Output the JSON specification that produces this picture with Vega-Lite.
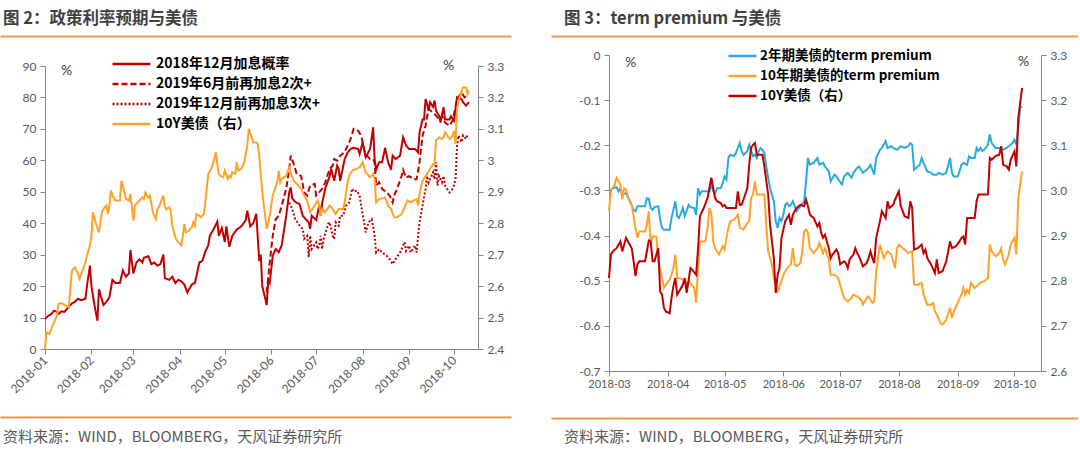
{
"$schema":"https://vega.github.io/schema/vega-lite/v6.json",
"background":"white",
"padding":{"left":0,"top":10,"right":0,"bottom":0},
"config":{"view":{"stroke":null},"axis":{"grid":false,"domainColor":"#868686","tickColor":"#868686","labelColor":"#595959","labelFont":"Lato","labelFontSize":12,"tickSize":5}},
"datasets":{
"L":[
{"s":"a","d":"2018-01-01","v":9.5},{"s":"a","d":"2018-01-03","v":10.5},{"s":"a","d":"2018-01-05","v":11},{"s":"a","d":"2018-01-07","v":12.2},{"s":"a","d":"2018-01-09","v":11.8},{"s":"a","d":"2018-01-10","v":11.2},{"s":"a","d":"2018-01-12","v":12},{"s":"a","d":"2018-01-14","v":11.8},{"s":"a","d":"2018-01-17","v":13.5},{"s":"a","d":"2018-01-19","v":14.5},{"s":"a","d":"2018-01-21","v":15},{"s":"a","d":"2018-01-23","v":16},{"s":"a","d":"2018-01-25","v":15.5},{"s":"a","d":"2018-01-28","v":16},{"s":"a","d":"2018-01-29","v":20},{"s":"a","d":"2018-01-31","v":26.5},{"s":"a","d":"2018-02-01","v":20},{"s":"a","d":"2018-02-03","v":14},{"s":"a","d":"2018-02-05","v":9},{"s":"a","d":"2018-02-06","v":19},{"s":"a","d":"2018-02-09","v":14},{"s":"a","d":"2018-02-11","v":15},{"s":"a","d":"2018-02-13","v":16.5},{"s":"a","d":"2018-02-15","v":22},{"s":"a","d":"2018-02-17","v":21},{"s":"a","d":"2018-02-20","v":21},{"s":"a","d":"2018-02-22","v":25},{"s":"a","d":"2018-02-24","v":23},{"s":"a","d":"2018-02-26","v":24},{"s":"a","d":"2018-02-27","v":31.5},{"s":"a","d":"2018-03-01","v":24},{"s":"a","d":"2018-03-03","v":27.5},{"s":"a","d":"2018-03-05","v":28.5},{"s":"a","d":"2018-03-07","v":27.5},{"s":"a","d":"2018-03-08","v":29},{"s":"a","d":"2018-03-11","v":29.5},{"s":"a","d":"2018-03-13","v":27},{"s":"a","d":"2018-03-15","v":27.5},{"s":"a","d":"2018-03-17","v":26.5},{"s":"a","d":"2018-03-19","v":27},{"s":"a","d":"2018-03-21","v":30},{"s":"a","d":"2018-03-22","v":22.5},{"s":"a","d":"2018-03-25","v":22},{"s":"a","d":"2018-03-27","v":23},{"s":"a","d":"2018-03-29","v":21},{"s":"a","d":"2018-03-31","v":22},{"s":"a","d":"2018-04-02","v":21.5},{"s":"a","d":"2018-04-04","v":20.5},{"s":"a","d":"2018-04-06","v":18},{"s":"a","d":"2018-04-09","v":20.5},{"s":"a","d":"2018-04-11","v":21},{"s":"a","d":"2018-04-12","v":23},{"s":"a","d":"2018-04-14","v":27.5},{"s":"a","d":"2018-04-16","v":28},{"s":"a","d":"2018-04-18","v":31},{"s":"a","d":"2018-04-20","v":33},{"s":"a","d":"2018-04-21","v":36},{"s":"a","d":"2018-04-24","v":38.5},{"s":"a","d":"2018-04-26","v":40.5},{"s":"a","d":"2018-04-27","v":36},{"s":"a","d":"2018-04-29","v":38.5},{"s":"a","d":"2018-05-01","v":34},{"s":"a","d":"2018-05-02","v":39},{"s":"a","d":"2018-05-04","v":32.5},{"s":"a","d":"2018-05-06","v":36},{"s":"a","d":"2018-05-09","v":38},{"s":"a","d":"2018-05-12","v":39},{"s":"a","d":"2018-05-15","v":41},{"s":"a","d":"2018-05-16","v":44},{"s":"a","d":"2018-05-18","v":39},{"s":"a","d":"2018-05-20","v":40},{"s":"a","d":"2018-05-22","v":43},{"s":"a","d":"2018-05-24","v":28},{"s":"a","d":"2018-05-25","v":30},{"s":"a","d":"2018-05-26","v":20},{"s":"a","d":"2018-05-29","v":14},{"s":"a","d":"2018-05-30","v":22},{"s":"a","d":"2018-05-31","v":21},{"s":"a","d":"2018-06-02","v":29.7},{"s":"a","d":"2018-06-04","v":31.8},{"s":"a","d":"2018-06-06","v":30.8},{"s":"a","d":"2018-06-08","v":33},{"s":"a","d":"2018-06-11","v":42.4},{"s":"a","d":"2018-06-13","v":49.8},{"s":"a","d":"2018-06-14","v":51.4},{"s":"a","d":"2018-06-15","v":47.9},{"s":"a","d":"2018-06-17","v":46.8},{"s":"a","d":"2018-06-20","v":46},{"s":"a","d":"2018-06-22","v":42.4},{"s":"a","d":"2018-06-24","v":41.3},{"s":"a","d":"2018-06-26","v":40.3},{"s":"a","d":"2018-06-27","v":38.2},{"s":"a","d":"2018-06-28","v":42.4},{"s":"a","d":"2018-07-01","v":41},{"s":"a","d":"2018-07-03","v":45.6},{"s":"a","d":"2018-07-04","v":42.4},{"s":"a","d":"2018-07-05","v":46.4},{"s":"a","d":"2018-07-07","v":51},{"s":"a","d":"2018-07-10","v":55},{"s":"a","d":"2018-07-11","v":57.3},{"s":"a","d":"2018-07-13","v":53.5},{"s":"a","d":"2018-07-15","v":58.3},{"s":"a","d":"2018-07-16","v":57.3},{"s":"a","d":"2018-07-17","v":53.5},{"s":"a","d":"2018-07-20","v":60.4},{"s":"a","d":"2018-07-22","v":62.5},{"s":"a","d":"2018-07-24","v":63.6},{"s":"a","d":"2018-07-26","v":64},{"s":"a","d":"2018-07-29","v":63.6},{"s":"a","d":"2018-07-30","v":62},{"s":"a","d":"2018-08-01","v":65.7},{"s":"a","d":"2018-08-03","v":61},{"s":"a","d":"2018-08-06","v":63.6},{"s":"a","d":"2018-08-08","v":70.5},{"s":"a","d":"2018-08-09","v":60.4},{"s":"a","d":"2018-08-10","v":57},{"s":"a","d":"2018-08-12","v":59.4},{"s":"a","d":"2018-08-14","v":59.4},{"s":"a","d":"2018-08-16","v":64},{"s":"a","d":"2018-08-18","v":59.4},{"s":"a","d":"2018-08-20","v":57},{"s":"a","d":"2018-08-21","v":61.5},{"s":"a","d":"2018-08-23","v":60.4},{"s":"a","d":"2018-08-26","v":61.5},{"s":"a","d":"2018-08-28","v":67.3},{"s":"a","d":"2018-08-30","v":64.7},{"s":"a","d":"2018-09-01","v":63.6},{"s":"a","d":"2018-09-05","v":63.6},{"s":"a","d":"2018-09-07","v":62.5},{"s":"a","d":"2018-09-08","v":69},{"s":"a","d":"2018-09-10","v":73},{"s":"a","d":"2018-09-11","v":73},{"s":"a","d":"2018-09-12","v":79.5},{"s":"a","d":"2018-09-13","v":78},{"s":"a","d":"2018-09-14","v":75.8},{"s":"a","d":"2018-09-15","v":78.5},{"s":"a","d":"2018-09-17","v":77},{"s":"a","d":"2018-09-18","v":79},{"s":"a","d":"2018-09-19","v":75.8},{"s":"a","d":"2018-09-21","v":74.2},{"s":"a","d":"2018-09-22","v":72},{"s":"a","d":"2018-09-24","v":76.9},{"s":"a","d":"2018-09-25","v":73},{"s":"a","d":"2018-09-28","v":73},{"s":"a","d":"2018-09-29","v":74},{"s":"a","d":"2018-10-01","v":72.6},{"s":"a","d":"2018-10-02","v":76.3},{"s":"a","d":"2018-10-03","v":80},{"s":"a","d":"2018-10-06","v":79.5},{"s":"a","d":"2018-10-07","v":78.5},{"s":"a","d":"2018-10-09","v":77.4},{"s":"a","d":"2018-10-11","v":78.5},
{"s":"b","d":"2018-05-29","v":18},{"s":"b","d":"2018-05-31","v":27.6},{"s":"b","d":"2018-06-02","v":36},{"s":"b","d":"2018-06-04","v":41.3},{"s":"b","d":"2018-06-06","v":42.4},{"s":"b","d":"2018-06-08","v":45.6},{"s":"b","d":"2018-06-11","v":51},{"s":"b","d":"2018-06-13","v":57.3},{"s":"b","d":"2018-06-14","v":61.5},{"s":"b","d":"2018-06-16","v":58.8},{"s":"b","d":"2018-06-18","v":55.7},{"s":"b","d":"2018-06-21","v":55},{"s":"b","d":"2018-06-23","v":49.8},{"s":"b","d":"2018-06-25","v":48.8},{"s":"b","d":"2018-06-27","v":52},{"s":"b","d":"2018-06-30","v":52.5},{"s":"b","d":"2018-07-01","v":48.8},{"s":"b","d":"2018-07-03","v":49.8},{"s":"b","d":"2018-07-05","v":51},{"s":"b","d":"2018-07-07","v":53},{"s":"b","d":"2018-07-10","v":57.3},{"s":"b","d":"2018-07-12","v":58.3},{"s":"b","d":"2018-07-13","v":60.4},{"s":"b","d":"2018-07-15","v":59.9},{"s":"b","d":"2018-07-17","v":61.5},{"s":"b","d":"2018-07-20","v":62.6},{"s":"b","d":"2018-07-22","v":64.7},{"s":"b","d":"2018-07-24","v":66.8},{"s":"b","d":"2018-07-26","v":70},{"s":"b","d":"2018-07-29","v":69.4},{"s":"b","d":"2018-07-31","v":67.9},{"s":"b","d":"2018-08-02","v":63.6},{"s":"b","d":"2018-08-03","v":62},{"s":"b","d":"2018-08-06","v":60.4},{"s":"b","d":"2018-08-08","v":60.4},{"s":"b","d":"2018-08-09","v":59.4},{"s":"b","d":"2018-08-10","v":52},{"s":"b","d":"2018-08-12","v":53},{"s":"b","d":"2018-08-14","v":50.9},{"s":"b","d":"2018-08-17","v":49.8},{"s":"b","d":"2018-08-19","v":48.8},{"s":"b","d":"2018-08-21","v":46.6},{"s":"b","d":"2018-08-22","v":48.8},{"s":"b","d":"2018-08-24","v":50.9},{"s":"b","d":"2018-08-27","v":55},{"s":"b","d":"2018-08-28","v":57},{"s":"b","d":"2018-08-30","v":54.5},{"s":"b","d":"2018-09-01","v":55},{"s":"b","d":"2018-09-04","v":54},{"s":"b","d":"2018-09-06","v":54},{"s":"b","d":"2018-09-08","v":59.4},{"s":"b","d":"2018-09-10","v":67.9},{"s":"b","d":"2018-09-12","v":71},{"s":"b","d":"2018-09-14","v":76.3},{"s":"b","d":"2018-09-17","v":75.2},{"s":"b","d":"2018-09-19","v":74.2},{"s":"b","d":"2018-09-21","v":73},{"s":"b","d":"2018-09-23","v":74.2},{"s":"b","d":"2018-09-25","v":72},{"s":"b","d":"2018-09-28","v":71},{"s":"b","d":"2018-09-30","v":72.6},{"s":"b","d":"2018-10-02","v":76.9},{"s":"b","d":"2018-10-03","v":79.5},{"s":"b","d":"2018-10-06","v":81.6},{"s":"b","d":"2018-10-08","v":80},{"s":"b","d":"2018-10-10","v":80.6},
{"s":"c","d":"2018-06-13","v":46.6},{"s":"c","d":"2018-06-15","v":44.5},{"s":"c","d":"2018-06-17","v":41.3},{"s":"c","d":"2018-06-20","v":39.2},{"s":"c","d":"2018-06-22","v":38.2},{"s":"c","d":"2018-06-23","v":35},{"s":"c","d":"2018-06-25","v":36},{"s":"c","d":"2018-06-26","v":29.2},{"s":"c","d":"2018-06-27","v":36},{"s":"c","d":"2018-06-28","v":31.8},{"s":"c","d":"2018-07-01","v":33.9},{"s":"c","d":"2018-07-02","v":31.8},{"s":"c","d":"2018-07-03","v":32.9},{"s":"c","d":"2018-07-04","v":36},{"s":"c","d":"2018-07-05","v":31.8},{"s":"c","d":"2018-07-06","v":35},{"s":"c","d":"2018-07-09","v":39.8},{"s":"c","d":"2018-07-10","v":40.3},{"s":"c","d":"2018-07-11","v":38.2},{"s":"c","d":"2018-07-12","v":36},{"s":"c","d":"2018-07-13","v":35},{"s":"c","d":"2018-07-14","v":40.3},{"s":"c","d":"2018-07-16","v":39.2},{"s":"c","d":"2018-07-17","v":42.4},{"s":"c","d":"2018-07-19","v":42.4},{"s":"c","d":"2018-07-21","v":45.6},{"s":"c","d":"2018-07-23","v":46.6},{"s":"c","d":"2018-07-25","v":51},{"s":"c","d":"2018-07-26","v":50},{"s":"c","d":"2018-07-28","v":50.4},{"s":"c","d":"2018-07-30","v":48.8},{"s":"c","d":"2018-07-31","v":45.6},{"s":"c","d":"2018-08-02","v":40.3},{"s":"c","d":"2018-08-03","v":37.1},{"s":"c","d":"2018-08-05","v":40.3},{"s":"c","d":"2018-08-07","v":41.3},{"s":"c","d":"2018-08-08","v":39.2},{"s":"c","d":"2018-08-09","v":36},{"s":"c","d":"2018-08-10","v":30.7},{"s":"c","d":"2018-08-12","v":31.8},{"s":"c","d":"2018-08-14","v":30.7},{"s":"c","d":"2018-08-17","v":29.7},{"s":"c","d":"2018-08-19","v":28.6},{"s":"c","d":"2018-08-21","v":27},{"s":"c","d":"2018-08-23","v":28.6},{"s":"c","d":"2018-08-26","v":30.7},{"s":"c","d":"2018-08-28","v":32.9},{"s":"c","d":"2018-08-29","v":34},{"s":"c","d":"2018-08-30","v":31.2},{"s":"c","d":"2018-09-01","v":32.9},{"s":"c","d":"2018-09-02","v":30.7},{"s":"c","d":"2018-09-05","v":32.9},{"s":"c","d":"2018-09-06","v":30.7},{"s":"c","d":"2018-09-07","v":36},{"s":"c","d":"2018-09-08","v":40.3},{"s":"c","d":"2018-09-10","v":45.6},{"s":"c","d":"2018-09-12","v":51},{"s":"c","d":"2018-09-13","v":55},{"s":"c","d":"2018-09-14","v":52.9},{"s":"c","d":"2018-09-17","v":56.2},{"s":"c","d":"2018-09-18","v":54},{"s":"c","d":"2018-09-19","v":59.4},{"s":"c","d":"2018-09-20","v":52},{"s":"c","d":"2018-09-21","v":55},{"s":"c","d":"2018-09-23","v":53},{"s":"c","d":"2018-09-24","v":55},{"s":"c","d":"2018-09-25","v":51.9},{"s":"c","d":"2018-09-28","v":49.8},{"s":"c","d":"2018-09-30","v":50.9},{"s":"c","d":"2018-10-01","v":52},{"s":"c","d":"2018-10-02","v":54},{"s":"c","d":"2018-10-03","v":64.7},{"s":"c","d":"2018-10-04","v":67.9},{"s":"c","d":"2018-10-06","v":65.8},{"s":"c","d":"2018-10-07","v":67.9},{"s":"c","d":"2018-10-09","v":66.8},{"s":"c","d":"2018-10-10","v":67.9},
{"s":"y","d":"2018-01-01","v":2.40},{"s":"y","d":"2018-01-02","v":2.453},{"s":"y","d":"2018-01-04","v":2.448},{"s":"y","d":"2018-01-06","v":2.474},{"s":"y","d":"2018-01-09","v":2.506},{"s":"y","d":"2018-01-10","v":2.543},{"s":"y","d":"2018-01-12","v":2.546},{"s":"y","d":"2018-01-14","v":2.540},{"s":"y","d":"2018-01-17","v":2.533},{"s":"y","d":"2018-01-18","v":2.601},{"s":"y","d":"2018-01-19","v":2.649},{"s":"y","d":"2018-01-21","v":2.660},{"s":"y","d":"2018-01-23","v":2.639},{"s":"y","d":"2018-01-24","v":2.623},{"s":"y","d":"2018-01-26","v":2.649},{"s":"y","d":"2018-01-28","v":2.676},{"s":"y","d":"2018-01-29","v":2.697},{"s":"y","d":"2018-01-31","v":2.729},{"s":"y","d":"2018-02-01","v":2.760},{"s":"y","d":"2018-02-02","v":2.835},{"s":"y","d":"2018-02-04","v":2.798},{"s":"y","d":"2018-02-06","v":2.771},{"s":"y","d":"2018-02-07","v":2.803},{"s":"y","d":"2018-02-08","v":2.835},{"s":"y","d":"2018-02-09","v":2.845},{"s":"y","d":"2018-02-11","v":2.856},{"s":"y","d":"2018-02-12","v":2.829},{"s":"y","d":"2018-02-13","v":2.856},{"s":"y","d":"2018-02-14","v":2.904},{"s":"y","d":"2018-02-15","v":2.888},{"s":"y","d":"2018-02-17","v":2.872},{"s":"y","d":"2018-02-20","v":2.872},{"s":"y","d":"2018-02-21","v":2.935},{"s":"y","d":"2018-02-23","v":2.898},{"s":"y","d":"2018-02-24","v":2.877},{"s":"y","d":"2018-02-26","v":2.872},{"s":"y","d":"2018-02-27","v":2.893},{"s":"y","d":"2018-03-01","v":2.808},{"s":"y","d":"2018-03-02","v":2.856},{"s":"y","d":"2018-03-05","v":2.872},{"s":"y","d":"2018-03-07","v":2.882},{"s":"y","d":"2018-03-08","v":2.877},{"s":"y","d":"2018-03-09","v":2.898},{"s":"y","d":"2018-03-11","v":2.882},{"s":"y","d":"2018-03-12","v":2.888},{"s":"y","d":"2018-03-13","v":2.861},{"s":"y","d":"2018-03-14","v":2.835},{"s":"y","d":"2018-03-16","v":2.813},{"s":"y","d":"2018-03-17","v":2.845},{"s":"y","d":"2018-03-18","v":2.851},{"s":"y","d":"2018-03-21","v":2.888},{"s":"y","d":"2018-03-22","v":2.851},{"s":"y","d":"2018-03-23","v":2.845},{"s":"y","d":"2018-03-25","v":2.851},{"s":"y","d":"2018-03-26","v":2.835},{"s":"y","d":"2018-03-27","v":2.792},{"s":"y","d":"2018-03-29","v":2.755},{"s":"y","d":"2018-03-30","v":2.745},{"s":"y","d":"2018-04-02","v":2.729},{"s":"y","d":"2018-04-03","v":2.760},{"s":"y","d":"2018-04-04","v":2.798},{"s":"y","d":"2018-04-05","v":2.771},{"s":"y","d":"2018-04-07","v":2.776},{"s":"y","d":"2018-04-09","v":2.787},{"s":"y","d":"2018-04-10","v":2.803},{"s":"y","d":"2018-04-11","v":2.792},{"s":"y","d":"2018-04-12","v":2.829},{"s":"y","d":"2018-04-14","v":2.824},{"s":"y","d":"2018-04-15","v":2.819},{"s":"y","d":"2018-04-17","v":2.829},{"s":"y","d":"2018-04-18","v":2.866},{"s":"y","d":"2018-04-20","v":2.957},{"s":"y","d":"2018-04-22","v":2.973},{"s":"y","d":"2018-04-24","v":3.004},{"s":"y","d":"2018-04-25","v":3.026},{"s":"y","d":"2018-04-26","v":2.988},{"s":"y","d":"2018-04-27","v":2.957},{"s":"y","d":"2018-04-28","v":2.951},{"s":"y","d":"2018-04-30","v":2.946},{"s":"y","d":"2018-05-01","v":2.967},{"s":"y","d":"2018-05-03","v":2.941},{"s":"y","d":"2018-05-04","v":2.951},{"s":"y","d":"2018-05-05","v":2.946},{"s":"y","d":"2018-05-06","v":2.962},{"s":"y","d":"2018-05-08","v":2.957},{"s":"y","d":"2018-05-09","v":2.994},{"s":"y","d":"2018-05-10","v":2.967},{"s":"y","d":"2018-05-12","v":2.973},{"s":"y","d":"2018-05-14","v":2.994},{"s":"y","d":"2018-05-16","v":3.047},{"s":"y","d":"2018-05-17","v":3.100},{"s":"y","d":"2018-05-19","v":3.073},{"s":"y","d":"2018-05-20","v":3.057},{"s":"y","d":"2018-05-22","v":3.057},{"s":"y","d":"2018-05-23","v":3.052},{"s":"y","d":"2018-05-24","v":3.015},{"s":"y","d":"2018-05-26","v":2.898},{"s":"y","d":"2018-05-29","v":2.782},{"s":"y","d":"2018-05-31","v":2.824},{"s":"y","d":"2018-06-02","v":2.888},{"s":"y","d":"2018-06-05","v":2.930},{"s":"y","d":"2018-06-06","v":2.967},{"s":"y","d":"2018-06-07","v":2.930},{"s":"y","d":"2018-06-08","v":2.941},{"s":"y","d":"2018-06-11","v":2.951},{"s":"y","d":"2018-06-13","v":2.978},{"s":"y","d":"2018-06-14","v":2.962},{"s":"y","d":"2018-06-16","v":2.935},{"s":"y","d":"2018-06-18","v":2.925},{"s":"y","d":"2018-06-21","v":2.909},{"s":"y","d":"2018-06-23","v":2.888},{"s":"y","d":"2018-06-25","v":2.872},{"s":"y","d":"2018-06-27","v":2.835},{"s":"y","d":"2018-06-30","v":2.856},{"s":"y","d":"2018-07-02","v":2.872},{"s":"y","d":"2018-07-03","v":2.856},{"s":"y","d":"2018-07-04","v":2.824},{"s":"y","d":"2018-07-05","v":2.845},{"s":"y","d":"2018-07-07","v":2.835},{"s":"y","d":"2018-07-10","v":2.856},{"s":"y","d":"2018-07-12","v":2.845},{"s":"y","d":"2018-07-14","v":2.829},{"s":"y","d":"2018-07-16","v":2.845},{"s":"y","d":"2018-07-19","v":2.845},{"s":"y","d":"2018-07-20","v":2.866},{"s":"y","d":"2018-07-22","v":2.930},{"s":"y","d":"2018-07-23","v":2.951},{"s":"y","d":"2018-07-25","v":2.967},{"s":"y","d":"2018-07-28","v":2.973},{"s":"y","d":"2018-07-30","v":2.978},{"s":"y","d":"2018-08-01","v":2.994},{"s":"y","d":"2018-08-03","v":2.962},{"s":"y","d":"2018-08-06","v":2.946},{"s":"y","d":"2018-08-08","v":2.957},{"s":"y","d":"2018-08-09","v":2.941},{"s":"y","d":"2018-08-10","v":2.866},{"s":"y","d":"2018-08-12","v":2.877},{"s":"y","d":"2018-08-16","v":2.882},{"s":"y","d":"2018-08-18","v":2.856},{"s":"y","d":"2018-08-20","v":2.845},{"s":"y","d":"2018-08-22","v":2.819},{"s":"y","d":"2018-08-24","v":2.819},{"s":"y","d":"2018-08-27","v":2.829},{"s":"y","d":"2018-08-29","v":2.851},{"s":"y","d":"2018-08-31","v":2.872},{"s":"y","d":"2018-09-02","v":2.866},{"s":"y","d":"2018-09-06","v":2.877},{"s":"y","d":"2018-09-07","v":2.856},{"s":"y","d":"2018-09-08","v":2.893},{"s":"y","d":"2018-09-10","v":2.935},{"s":"y","d":"2018-09-13","v":2.957},{"s":"y","d":"2018-09-17","v":2.988},{"s":"y","d":"2018-09-18","v":2.988},{"s":"y","d":"2018-09-19","v":3.063},{"s":"y","d":"2018-09-21","v":3.073},{"s":"y","d":"2018-09-23","v":3.068},{"s":"y","d":"2018-09-24","v":3.073},{"s":"y","d":"2018-09-25","v":3.089},{"s":"y","d":"2018-09-28","v":3.068},{"s":"y","d":"2018-09-30","v":3.079},{"s":"y","d":"2018-10-01","v":3.094},{"s":"y","d":"2018-10-02","v":3.052},{"s":"y","d":"2018-10-03","v":3.163},{"s":"y","d":"2018-10-04","v":3.190},{"s":"y","d":"2018-10-07","v":3.232},{"s":"y","d":"2018-10-09","v":3.232},{"s":"y","d":"2018-10-10","v":3.211},{"s":"y","d":"2018-10-11","v":3.222}
],
"R":[
{"s":"p","d":"2018-03-01","v":-0.302},{"s":"p","d":"2018-03-03","v":-0.295},{"s":"p","d":"2018-03-05","v":-0.293},{"s":"p","d":"2018-03-06","v":-0.302},{"s":"p","d":"2018-03-07","v":-0.295},{"s":"p","d":"2018-03-08","v":-0.309},{"s":"p","d":"2018-03-10","v":-0.306},{"s":"p","d":"2018-03-12","v":-0.324},{"s":"p","d":"2018-03-14","v":-0.343},{"s":"p","d":"2018-03-15","v":-0.346},{"s":"p","d":"2018-03-16","v":-0.335},{"s":"p","d":"2018-03-18","v":-0.335},{"s":"p","d":"2018-03-20","v":-0.335},{"s":"p","d":"2018-03-21","v":-0.317},{"s":"p","d":"2018-03-22","v":-0.318},{"s":"p","d":"2018-03-23","v":-0.339},{"s":"p","d":"2018-03-24","v":-0.343},{"s":"p","d":"2018-03-25","v":-0.337},{"s":"p","d":"2018-03-27","v":-0.335},{"s":"p","d":"2018-03-28","v":-0.365},{"s":"p","d":"2018-03-29","v":-0.383},{"s":"p","d":"2018-03-30","v":-0.387},{"s":"p","d":"2018-04-01","v":-0.387},{"s":"p","d":"2018-04-02","v":-0.387},{"s":"p","d":"2018-04-03","v":-0.361},{"s":"p","d":"2018-04-05","v":-0.324},{"s":"p","d":"2018-04-06","v":-0.357},{"s":"p","d":"2018-04-07","v":-0.361},{"s":"p","d":"2018-04-08","v":-0.350},{"s":"p","d":"2018-04-09","v":-0.339},{"s":"p","d":"2018-04-10","v":-0.357},{"s":"p","d":"2018-04-12","v":-0.332},{"s":"p","d":"2018-04-13","v":-0.337},{"s":"p","d":"2018-04-15","v":-0.339},{"s":"p","d":"2018-04-16","v":-0.354},{"s":"p","d":"2018-04-17","v":-0.295},{"s":"p","d":"2018-04-18","v":-0.309},{"s":"p","d":"2018-04-19","v":-0.302},{"s":"p","d":"2018-04-21","v":-0.302},{"s":"p","d":"2018-04-23","v":-0.302},{"s":"p","d":"2018-04-24","v":-0.287},{"s":"p","d":"2018-04-25","v":-0.302},{"s":"p","d":"2018-04-26","v":-0.306},{"s":"p","d":"2018-04-27","v":-0.295},{"s":"p","d":"2018-04-29","v":-0.295},{"s":"p","d":"2018-04-30","v":-0.284},{"s":"p","d":"2018-05-01","v":-0.269},{"s":"p","d":"2018-05-02","v":-0.276},{"s":"p","d":"2018-05-03","v":-0.228},{"s":"p","d":"2018-05-04","v":-0.221},{"s":"p","d":"2018-05-06","v":-0.224},{"s":"p","d":"2018-05-07","v":-0.217},{"s":"p","d":"2018-05-08","v":-0.206},{"s":"p","d":"2018-05-09","v":-0.195},{"s":"p","d":"2018-05-10","v":-0.213},{"s":"p","d":"2018-05-11","v":-0.221},{"s":"p","d":"2018-05-13","v":-0.213},{"s":"p","d":"2018-05-14","v":-0.199},{"s":"p","d":"2018-05-15","v":-0.213},{"s":"p","d":"2018-05-16","v":-0.224},{"s":"p","d":"2018-05-17","v":-0.221},{"s":"p","d":"2018-05-18","v":-0.228},{"s":"p","d":"2018-05-19","v":-0.213},{"s":"p","d":"2018-05-20","v":-0.206},{"s":"p","d":"2018-05-21","v":-0.210},{"s":"p","d":"2018-05-22","v":-0.217},{"s":"p","d":"2018-05-23","v":-0.247},{"s":"p","d":"2018-05-24","v":-0.272},{"s":"p","d":"2018-05-25","v":-0.295},{"s":"p","d":"2018-05-27","v":-0.324},{"s":"p","d":"2018-05-28","v":-0.368},{"s":"p","d":"2018-05-29","v":-0.383},{"s":"p","d":"2018-05-30","v":-0.361},{"s":"p","d":"2018-05-31","v":-0.368},{"s":"p","d":"2018-06-01","v":-0.354},{"s":"p","d":"2018-06-02","v":-0.332},{"s":"p","d":"2018-06-03","v":-0.328},{"s":"p","d":"2018-06-04","v":-0.335},{"s":"p","d":"2018-06-05","v":-0.332},{"s":"p","d":"2018-06-06","v":-0.324},{"s":"p","d":"2018-06-08","v":-0.346},{"s":"p","d":"2018-06-10","v":-0.335},{"s":"p","d":"2018-06-12","v":-0.324},{"s":"p","d":"2018-06-13","v":-0.280},{"s":"p","d":"2018-06-14","v":-0.228},{"s":"p","d":"2018-06-15","v":-0.243},{"s":"p","d":"2018-06-17","v":-0.239},{"s":"p","d":"2018-06-19","v":-0.228},{"s":"p","d":"2018-06-20","v":-0.243},{"s":"p","d":"2018-06-22","v":-0.239},{"s":"p","d":"2018-06-23","v":-0.247},{"s":"p","d":"2018-06-25","v":-0.258},{"s":"p","d":"2018-06-26","v":-0.280},{"s":"p","d":"2018-06-28","v":-0.265},{"s":"p","d":"2018-06-29","v":-0.269},{"s":"p","d":"2018-06-30","v":-0.276},{"s":"p","d":"2018-07-02","v":-0.287},{"s":"p","d":"2018-07-03","v":-0.269},{"s":"p","d":"2018-07-05","v":-0.261},{"s":"p","d":"2018-07-07","v":-0.272},{"s":"p","d":"2018-07-08","v":-0.261},{"s":"p","d":"2018-07-10","v":-0.250},{"s":"p","d":"2018-07-11","v":-0.247},{"s":"p","d":"2018-07-13","v":-0.261},{"s":"p","d":"2018-07-15","v":-0.254},{"s":"p","d":"2018-07-16","v":-0.250},{"s":"p","d":"2018-07-17","v":-0.243},{"s":"p","d":"2018-07-19","v":-0.265},{"s":"p","d":"2018-07-20","v":-0.228},{"s":"p","d":"2018-07-22","v":-0.210},{"s":"p","d":"2018-07-23","v":-0.206},{"s":"p","d":"2018-07-25","v":-0.191},{"s":"p","d":"2018-07-26","v":-0.206},{"s":"p","d":"2018-07-28","v":-0.202},{"s":"p","d":"2018-07-29","v":-0.206},{"s":"p","d":"2018-07-31","v":-0.210},{"s":"p","d":"2018-08-02","v":-0.202},{"s":"p","d":"2018-08-04","v":-0.206},{"s":"p","d":"2018-08-06","v":-0.202},{"s":"p","d":"2018-08-07","v":-0.195},{"s":"p","d":"2018-08-08","v":-0.199},{"s":"p","d":"2018-08-09","v":-0.254},{"s":"p","d":"2018-08-11","v":-0.247},{"s":"p","d":"2018-08-12","v":-0.243},{"s":"p","d":"2018-08-13","v":-0.228},{"s":"p","d":"2018-08-14","v":-0.239},{"s":"p","d":"2018-08-16","v":-0.258},{"s":"p","d":"2018-08-18","v":-0.261},{"s":"p","d":"2018-08-19","v":-0.265},{"s":"p","d":"2018-08-21","v":-0.265},{"s":"p","d":"2018-08-22","v":-0.261},{"s":"p","d":"2018-08-24","v":-0.265},{"s":"p","d":"2018-08-26","v":-0.261},{"s":"p","d":"2018-08-28","v":-0.228},{"s":"p","d":"2018-08-29","v":-0.261},{"s":"p","d":"2018-08-30","v":-0.269},{"s":"p","d":"2018-09-01","v":-0.269},{"s":"p","d":"2018-09-02","v":-0.258},{"s":"p","d":"2018-09-03","v":-0.243},{"s":"p","d":"2018-09-04","v":-0.239},{"s":"p","d":"2018-09-06","v":-0.243},{"s":"p","d":"2018-09-07","v":-0.224},{"s":"p","d":"2018-09-08","v":-0.228},{"s":"p","d":"2018-09-10","v":-0.228},{"s":"p","d":"2018-09-11","v":-0.206},{"s":"p","d":"2018-09-12","v":-0.213},{"s":"p","d":"2018-09-13","v":-0.206},{"s":"p","d":"2018-09-14","v":-0.213},{"s":"p","d":"2018-09-15","v":-0.210},{"s":"p","d":"2018-09-17","v":-0.199},{"s":"p","d":"2018-09-18","v":-0.176},{"s":"p","d":"2018-09-19","v":-0.195},{"s":"p","d":"2018-09-21","v":-0.206},{"s":"p","d":"2018-09-23","v":-0.206},{"s":"p","d":"2018-09-24","v":-0.206},{"s":"p","d":"2018-09-25","v":-0.210},{"s":"p","d":"2018-09-27","v":-0.205},{"s":"p","d":"2018-09-28","v":-0.202},{"s":"p","d":"2018-09-30","v":-0.195},{"s":"p","d":"2018-10-01","v":-0.188},{"s":"p","d":"2018-10-02","v":-0.199},{"s":"p","d":"2018-10-03","v":-0.160},{"s":"p","d":"2018-10-04","v":-0.117},{"s":"p","d":"2018-10-05","v":-0.114},
{"s":"q","d":"2018-03-01","v":-0.346},{"s":"q","d":"2018-03-02","v":-0.302},{"s":"q","d":"2018-03-04","v":-0.287},{"s":"q","d":"2018-03-05","v":-0.272},{"s":"q","d":"2018-03-07","v":-0.287},{"s":"q","d":"2018-03-08","v":-0.320},{"s":"q","d":"2018-03-09","v":-0.295},{"s":"q","d":"2018-03-10","v":-0.298},{"s":"q","d":"2018-03-11","v":-0.313},{"s":"q","d":"2018-03-13","v":-0.332},{"s":"q","d":"2018-03-15","v":-0.383},{"s":"q","d":"2018-03-16","v":-0.405},{"s":"q","d":"2018-03-17","v":-0.391},{"s":"q","d":"2018-03-18","v":-0.391},{"s":"q","d":"2018-03-20","v":-0.391},{"s":"q","d":"2018-03-21","v":-0.376},{"s":"q","d":"2018-03-22","v":-0.346},{"s":"q","d":"2018-03-23","v":-0.420},{"s":"q","d":"2018-03-24","v":-0.402},{"s":"q","d":"2018-03-26","v":-0.402},{"s":"q","d":"2018-03-27","v":-0.457},{"s":"q","d":"2018-03-29","v":-0.494},{"s":"q","d":"2018-03-30","v":-0.516},{"s":"q","d":"2018-03-31","v":-0.509},{"s":"q","d":"2018-04-02","v":-0.498},{"s":"q","d":"2018-04-03","v":-0.487},{"s":"q","d":"2018-04-04","v":-0.472},{"s":"q","d":"2018-04-05","v":-0.442},{"s":"q","d":"2018-04-06","v":-0.494},{"s":"q","d":"2018-04-08","v":-0.495},{"s":"q","d":"2018-04-10","v":-0.501},{"s":"q","d":"2018-04-11","v":-0.509},{"s":"q","d":"2018-04-12","v":-0.501},{"s":"q","d":"2018-04-13","v":-0.505},{"s":"q","d":"2018-04-15","v":-0.516},{"s":"q","d":"2018-04-16","v":-0.549},{"s":"q","d":"2018-04-17","v":-0.472},{"s":"q","d":"2018-04-18","v":-0.413},{"s":"q","d":"2018-04-20","v":-0.413},{"s":"q","d":"2018-04-21","v":-0.411},{"s":"q","d":"2018-04-22","v":-0.383},{"s":"q","d":"2018-04-23","v":-0.339},{"s":"q","d":"2018-04-24","v":-0.350},{"s":"q","d":"2018-04-25","v":-0.413},{"s":"q","d":"2018-04-26","v":-0.428},{"s":"q","d":"2018-04-28","v":-0.442},{"s":"q","d":"2018-04-30","v":-0.424},{"s":"q","d":"2018-05-01","v":-0.431},{"s":"q","d":"2018-05-02","v":-0.405},{"s":"q","d":"2018-05-03","v":-0.383},{"s":"q","d":"2018-05-04","v":-0.368},{"s":"q","d":"2018-05-06","v":-0.365},{"s":"q","d":"2018-05-08","v":-0.354},{"s":"q","d":"2018-05-09","v":-0.383},{"s":"q","d":"2018-05-11","v":-0.387},{"s":"q","d":"2018-05-13","v":-0.372},{"s":"q","d":"2018-05-14","v":-0.368},{"s":"q","d":"2018-05-15","v":-0.317},{"s":"q","d":"2018-05-16","v":-0.309},{"s":"q","d":"2018-05-17","v":-0.280},{"s":"q","d":"2018-05-18","v":-0.309},{"s":"q","d":"2018-05-20","v":-0.309},{"s":"q","d":"2018-05-22","v":-0.309},{"s":"q","d":"2018-05-23","v":-0.376},{"s":"q","d":"2018-05-24","v":-0.435},{"s":"q","d":"2018-05-26","v":-0.464},{"s":"q","d":"2018-05-27","v":-0.494},{"s":"q","d":"2018-05-29","v":-0.524},{"s":"q","d":"2018-05-31","v":-0.501},{"s":"q","d":"2018-06-01","v":-0.487},{"s":"q","d":"2018-06-03","v":-0.472},{"s":"q","d":"2018-06-05","v":-0.464},{"s":"q","d":"2018-06-06","v":-0.428},{"s":"q","d":"2018-06-07","v":-0.464},{"s":"q","d":"2018-06-08","v":-0.468},{"s":"q","d":"2018-06-10","v":-0.461},{"s":"q","d":"2018-06-11","v":-0.435},{"s":"q","d":"2018-06-12","v":-0.391},{"s":"q","d":"2018-06-13","v":-0.387},{"s":"q","d":"2018-06-14","v":-0.394},{"s":"q","d":"2018-06-15","v":-0.428},{"s":"q","d":"2018-06-17","v":-0.439},{"s":"q","d":"2018-06-19","v":-0.428},{"s":"q","d":"2018-06-20","v":-0.416},{"s":"q","d":"2018-06-22","v":-0.439},{"s":"q","d":"2018-06-23","v":-0.428},{"s":"q","d":"2018-06-25","v":-0.453},{"s":"q","d":"2018-06-26","v":-0.487},{"s":"q","d":"2018-06-28","v":-0.487},{"s":"q","d":"2018-06-30","v":-0.494},{"s":"q","d":"2018-07-01","v":-0.509},{"s":"q","d":"2018-07-03","v":-0.538},{"s":"q","d":"2018-07-05","v":-0.546},{"s":"q","d":"2018-07-07","v":-0.538},{"s":"q","d":"2018-07-08","v":-0.531},{"s":"q","d":"2018-07-10","v":-0.535},{"s":"q","d":"2018-07-12","v":-0.542},{"s":"q","d":"2018-07-13","v":-0.553},{"s":"q","d":"2018-07-15","v":-0.538},{"s":"q","d":"2018-07-16","v":-0.535},{"s":"q","d":"2018-07-18","v":-0.549},{"s":"q","d":"2018-07-19","v":-0.546},{"s":"q","d":"2018-07-20","v":-0.479},{"s":"q","d":"2018-07-22","v":-0.420},{"s":"q","d":"2018-07-23","v":-0.435},{"s":"q","d":"2018-07-24","v":-0.450},{"s":"q","d":"2018-07-26","v":-0.435},{"s":"q","d":"2018-07-28","v":-0.442},{"s":"q","d":"2018-07-29","v":-0.457},{"s":"q","d":"2018-07-30","v":-0.472},{"s":"q","d":"2018-07-31","v":-0.428},{"s":"q","d":"2018-08-01","v":-0.420},{"s":"q","d":"2018-08-03","v":-0.428},{"s":"q","d":"2018-08-05","v":-0.435},{"s":"q","d":"2018-08-06","v":-0.439},{"s":"q","d":"2018-08-08","v":-0.435},{"s":"q","d":"2018-08-09","v":-0.509},{"s":"q","d":"2018-08-11","v":-0.509},{"s":"q","d":"2018-08-13","v":-0.505},{"s":"q","d":"2018-08-14","v":-0.531},{"s":"q","d":"2018-08-16","v":-0.553},{"s":"q","d":"2018-08-18","v":-0.553},{"s":"q","d":"2018-08-19","v":-0.549},{"s":"q","d":"2018-08-20","v":-0.568},{"s":"q","d":"2018-08-21","v":-0.575},{"s":"q","d":"2018-08-23","v":-0.594},{"s":"q","d":"2018-08-24","v":-0.597},{"s":"q","d":"2018-08-26","v":-0.586},{"s":"q","d":"2018-08-28","v":-0.560},{"s":"q","d":"2018-08-29","v":-0.583},{"s":"q","d":"2018-08-30","v":-0.568},{"s":"q","d":"2018-09-01","v":-0.549},{"s":"q","d":"2018-09-03","v":-0.531},{"s":"q","d":"2018-09-04","v":-0.516},{"s":"q","d":"2018-09-05","v":-0.531},{"s":"q","d":"2018-09-06","v":-0.520},{"s":"q","d":"2018-09-07","v":-0.527},{"s":"q","d":"2018-09-08","v":-0.505},{"s":"q","d":"2018-09-10","v":-0.516},{"s":"q","d":"2018-09-11","v":-0.512},{"s":"q","d":"2018-09-13","v":-0.505},{"s":"q","d":"2018-09-15","v":-0.501},{"s":"q","d":"2018-09-17","v":-0.494},{"s":"q","d":"2018-09-18","v":-0.420},{"s":"q","d":"2018-09-19","v":-0.435},{"s":"q","d":"2018-09-21","v":-0.446},{"s":"q","d":"2018-09-23","v":-0.439},{"s":"q","d":"2018-09-24","v":-0.428},{"s":"q","d":"2018-09-25","v":-0.453},{"s":"q","d":"2018-09-26","v":-0.464},{"s":"q","d":"2018-09-28","v":-0.442},{"s":"q","d":"2018-09-29","v":-0.420},{"s":"q","d":"2018-10-01","v":-0.405},{"s":"q","d":"2018-10-02","v":-0.442},{"s":"q","d":"2018-10-03","v":-0.317},{"s":"q","d":"2018-10-05","v":-0.258},
{"s":"t","d":"2018-03-01","v":2.806},{"s":"t","d":"2018-03-02","v":2.858},{"s":"t","d":"2018-03-03","v":2.865},{"s":"t","d":"2018-03-05","v":2.872},{"s":"t","d":"2018-03-07","v":2.887},{"s":"t","d":"2018-03-08","v":2.865},{"s":"t","d":"2018-03-10","v":2.895},{"s":"t","d":"2018-03-11","v":2.887},{"s":"t","d":"2018-03-13","v":2.872},{"s":"t","d":"2018-03-14","v":2.843},{"s":"t","d":"2018-03-15","v":2.810},{"s":"t","d":"2018-03-16","v":2.836},{"s":"t","d":"2018-03-17","v":2.843},{"s":"t","d":"2018-03-19","v":2.843},{"s":"t","d":"2018-03-20","v":2.843},{"s":"t","d":"2018-03-21","v":2.865},{"s":"t","d":"2018-03-22","v":2.889},{"s":"t","d":"2018-03-23","v":2.887},{"s":"t","d":"2018-03-24","v":2.843},{"s":"t","d":"2018-03-25","v":2.843},{"s":"t","d":"2018-03-26","v":2.858},{"s":"t","d":"2018-03-27","v":2.872},{"s":"t","d":"2018-03-28","v":2.776},{"s":"t","d":"2018-03-29","v":2.769},{"s":"t","d":"2018-03-30","v":2.740},{"s":"t","d":"2018-03-31","v":2.732},{"s":"t","d":"2018-04-02","v":2.728},{"s":"t","d":"2018-04-03","v":2.762},{"s":"t","d":"2018-04-04","v":2.788},{"s":"t","d":"2018-04-05","v":2.806},{"s":"t","d":"2018-04-06","v":2.769},{"s":"t","d":"2018-04-07","v":2.776},{"s":"t","d":"2018-04-09","v":2.791},{"s":"t","d":"2018-04-10","v":2.806},{"s":"t","d":"2018-04-11","v":2.773},{"s":"t","d":"2018-04-12","v":2.801},{"s":"t","d":"2018-04-13","v":2.828},{"s":"t","d":"2018-04-14","v":2.824},{"s":"t","d":"2018-04-16","v":2.813},{"s":"t","d":"2018-04-17","v":2.872},{"s":"t","d":"2018-04-18","v":2.943},{"s":"t","d":"2018-04-20","v":2.961},{"s":"t","d":"2018-04-22","v":2.983},{"s":"t","d":"2018-04-24","v":3.028},{"s":"t","d":"2018-04-25","v":3.005},{"s":"t","d":"2018-04-26","v":2.983},{"s":"t","d":"2018-04-27","v":2.976},{"s":"t","d":"2018-04-29","v":2.972},{"s":"t","d":"2018-04-30","v":2.965},{"s":"t","d":"2018-05-01","v":2.968},{"s":"t","d":"2018-05-02","v":2.961},{"s":"t","d":"2018-05-03","v":2.961},{"s":"t","d":"2018-05-05","v":2.961},{"s":"t","d":"2018-05-07","v":2.961},{"s":"t","d":"2018-05-08","v":2.998},{"s":"t","d":"2018-05-09","v":2.968},{"s":"t","d":"2018-05-10","v":2.968},{"s":"t","d":"2018-05-11","v":2.980},{"s":"t","d":"2018-05-13","v":3.005},{"s":"t","d":"2018-05-14","v":3.057},{"s":"t","d":"2018-05-15","v":3.094},{"s":"t","d":"2018-05-16","v":3.101},{"s":"t","d":"2018-05-17","v":3.105},{"s":"t","d":"2018-05-18","v":3.079},{"s":"t","d":"2018-05-20","v":3.079},{"s":"t","d":"2018-05-21","v":3.079},{"s":"t","d":"2018-05-22","v":3.053},{"s":"t","d":"2018-05-24","v":2.991},{"s":"t","d":"2018-05-25","v":2.924},{"s":"t","d":"2018-05-27","v":2.850},{"s":"t","d":"2018-05-28","v":2.773},{"s":"t","d":"2018-05-29","v":2.813},{"s":"t","d":"2018-05-30","v":2.828},{"s":"t","d":"2018-05-31","v":2.894},{"s":"t","d":"2018-06-02","v":2.932},{"s":"t","d":"2018-06-04","v":2.946},{"s":"t","d":"2018-06-05","v":2.924},{"s":"t","d":"2018-06-06","v":2.946},{"s":"t","d":"2018-06-07","v":2.954},{"s":"t","d":"2018-06-08","v":2.961},{"s":"t","d":"2018-06-10","v":2.968},{"s":"t","d":"2018-06-12","v":2.965},{"s":"t","d":"2018-06-13","v":2.980},{"s":"t","d":"2018-06-14","v":2.965},{"s":"t","d":"2018-06-15","v":2.946},{"s":"t","d":"2018-06-17","v":2.939},{"s":"t","d":"2018-06-19","v":2.920},{"s":"t","d":"2018-06-20","v":2.928},{"s":"t","d":"2018-06-21","v":2.906},{"s":"t","d":"2018-06-22","v":2.895},{"s":"t","d":"2018-06-23","v":2.902},{"s":"t","d":"2018-06-24","v":2.887},{"s":"t","d":"2018-06-25","v":2.872},{"s":"t","d":"2018-06-26","v":2.850},{"s":"t","d":"2018-06-27","v":2.858},{"s":"t","d":"2018-06-29","v":2.869},{"s":"t","d":"2018-06-30","v":2.861},{"s":"t","d":"2018-07-01","v":2.836},{"s":"t","d":"2018-07-03","v":2.843},{"s":"t","d":"2018-07-04","v":2.839},{"s":"t","d":"2018-07-05","v":2.828},{"s":"t","d":"2018-07-06","v":2.847},{"s":"t","d":"2018-07-08","v":2.858},{"s":"t","d":"2018-07-09","v":2.872},{"s":"t","d":"2018-07-10","v":2.861},{"s":"t","d":"2018-07-11","v":2.854},{"s":"t","d":"2018-07-13","v":2.832},{"s":"t","d":"2018-07-15","v":2.839},{"s":"t","d":"2018-07-16","v":2.850},{"s":"t","d":"2018-07-17","v":2.865},{"s":"t","d":"2018-07-18","v":2.850},{"s":"t","d":"2018-07-19","v":2.839},{"s":"t","d":"2018-07-20","v":2.895},{"s":"t","d":"2018-07-22","v":2.932},{"s":"t","d":"2018-07-23","v":2.954},{"s":"t","d":"2018-07-25","v":2.939},{"s":"t","d":"2018-07-26","v":2.976},{"s":"t","d":"2018-07-27","v":2.961},{"s":"t","d":"2018-07-29","v":2.968},{"s":"t","d":"2018-07-30","v":2.980},{"s":"t","d":"2018-08-01","v":2.998},{"s":"t","d":"2018-08-02","v":2.965},{"s":"t","d":"2018-08-03","v":2.954},{"s":"t","d":"2018-08-04","v":2.943},{"s":"t","d":"2018-08-06","v":2.939},{"s":"t","d":"2018-08-07","v":2.976},{"s":"t","d":"2018-08-08","v":2.961},{"s":"t","d":"2018-08-09","v":2.869},{"s":"t","d":"2018-08-11","v":2.872},{"s":"t","d":"2018-08-13","v":2.880},{"s":"t","d":"2018-08-14","v":2.861},{"s":"t","d":"2018-08-15","v":2.869},{"s":"t","d":"2018-08-16","v":2.850},{"s":"t","d":"2018-08-18","v":2.836},{"s":"t","d":"2018-08-20","v":2.817},{"s":"t","d":"2018-08-21","v":2.847},{"s":"t","d":"2018-08-22","v":2.817},{"s":"t","d":"2018-08-24","v":2.821},{"s":"t","d":"2018-08-26","v":2.843},{"s":"t","d":"2018-08-28","v":2.887},{"s":"t","d":"2018-08-29","v":2.872},{"s":"t","d":"2018-08-31","v":2.876},{"s":"t","d":"2018-09-02","v":2.887},{"s":"t","d":"2018-09-03","v":2.895},{"s":"t","d":"2018-09-04","v":2.898},{"s":"t","d":"2018-09-05","v":2.880},{"s":"t","d":"2018-09-06","v":2.939},{"s":"t","d":"2018-09-08","v":2.939},{"s":"t","d":"2018-09-10","v":2.939},{"s":"t","d":"2018-09-11","v":2.976},{"s":"t","d":"2018-09-12","v":2.991},{"s":"t","d":"2018-09-13","v":2.991},{"s":"t","d":"2018-09-15","v":2.991},{"s":"t","d":"2018-09-17","v":2.991},{"s":"t","d":"2018-09-18","v":3.072},{"s":"t","d":"2018-09-19","v":3.068},{"s":"t","d":"2018-09-21","v":3.076},{"s":"t","d":"2018-09-23","v":3.079},{"s":"t","d":"2018-09-24","v":3.098},{"s":"t","d":"2018-09-25","v":3.057},{"s":"t","d":"2018-09-27","v":3.053},{"s":"t","d":"2018-09-28","v":3.046},{"s":"t","d":"2018-09-29","v":3.068},{"s":"t","d":"2018-10-01","v":3.087},{"s":"t","d":"2018-10-02","v":3.053},{"s":"t","d":"2018-10-03","v":3.160},{"s":"t","d":"2018-10-05","v":3.227}
]
},
"spacing":40,
"resolve":{"scale":{"color":"independent","strokeDash":"independent"},"legend":{"color":"independent","strokeDash":"independent"}},
"hconcat":[
{
"spacing":18,
"resolve":{"scale":{"color":"independent","strokeDash":"independent"},"legend":{"color":"independent","strokeDash":"independent"}},
"vconcat":[
{"width":511,"height":1,"data":{"values":[{}]},"mark":{"type":"point","opacity":0,"size":0},
 "encoding":{"x":{"datum":0,"type":"quantitative","scale":{"domain":[0,1]},"axis":{"orient":"bottom","domainColor":"#F0964A","domainWidth":2,"ticks":false,"labels":false,"title":null}}},
 "title":{"text":"图 2：政策利率预期与美债","anchor":"start","frame":"group","dx":3,"fontSize":16.5,"fontWeight":"bold","color":"#3F3F3F","font":"Noto Sans CJK SC","offset":-8,"baseline":"bottom"}},
{"spacing":0,
 "resolve":{"scale":{"color":"independent","strokeDash":"independent"},"legend":{"color":"independent","strokeDash":"independent"}},
 "hconcat":[
 {"width":1,"height":1,"data":{"values":[{}]},"mark":{"type":"point","opacity":0,"size":0},"encoding":{}},
 {"width":433,"height":283,"data":{"name":"L"},
  "encoding":{"x":{"field":"d","type":"temporal","scale":{"type":"utc","domain":[{"year":2018,"month":1,"date":1,"utc":true},{"year":2018,"month":10,"date":17,"utc":true}]},
   "axis":{"title":null,"format":"%Y-%m","labelAngle":-45,"labelAlign":"right","labelBaseline":"middle","labelPadding":4,"labelFlush":false,"labelOverlap":false,
    "values":[{"year":2018,"month":1,"date":1,"utc":true},{"year":2018,"month":2,"date":1,"utc":true},{"year":2018,"month":3,"date":1,"utc":true},{"year":2018,"month":4,"date":1,"utc":true},{"year":2018,"month":5,"date":1,"utc":true},{"year":2018,"month":6,"date":1,"utc":true},{"year":2018,"month":7,"date":1,"utc":true},{"year":2018,"month":8,"date":1,"utc":true},{"year":2018,"month":9,"date":1,"utc":true},{"year":2018,"month":10,"date":1,"utc":true}]}}},
  "layer":[
   {"transform":[{"filter":"datum.s != 'y'"}],"mark":{"type":"line","strokeWidth":2},
    "encoding":{"y":{"field":"v","type":"quantitative","scale":{"domain":[0,90],"nice":false,"zero":false},
      "axis":{"orient":"left","values":[0,10,20,30,40,50,60,70,80,90],"title":"%","titleAngle":0,"titleX":21,"titleY":4,"titleAlign":"center","titleBaseline":"middle","titleFontSize":14,"titleFontWeight":"normal","titleColor":"#404040","titleFont":"Lato","minExtent":44,"labelPadding":4}},
     "color":{"field":"s","type":"nominal","scale":{"domain":["a","b","c","y"],"range":["#C00000","#C00000","#C00000","#FFA229"]},
      "legend":{"orient":"none","legendX":66,"legendY":-12,"title":null,"symbolType":"stroke","symbolSize":1444,"symbolStrokeWidth":2.5,"labelFontSize":14,"labelFontWeight":"bold","labelFont":"Noto Sans CJK SC","labelColor":"#000000","clipHeight":20,"rowPadding":0,"labelOffset":4,"padding":0,"labelLimit":300,
       "labelExpr":"datum.label == 'a' ? '2018年12月加息概率' : datum.label == 'b' ? '2019年6月前再加息2次+' : datum.label == 'c' ? '2019年12月前再加息3次+' : '10Y美债（右）'"}},
     "strokeDash":{"field":"s","type":"nominal","scale":{"domain":["a","b","c","y"],"range":[[1,0],[6,3],[2,2],[1,0]]},
      "legend":{"orient":"none","legendX":66,"legendY":-12,"title":null,"symbolType":"stroke","symbolSize":1444,"symbolStrokeWidth":2.5,"labelFontSize":14,"labelFontWeight":"bold","labelFont":"Noto Sans CJK SC","labelColor":"#000000","clipHeight":20,"rowPadding":0,"labelOffset":4,"padding":0,"labelLimit":300,
       "labelExpr":"datum.label == 'a' ? '2018年12月加息概率' : datum.label == 'b' ? '2019年6月前再加息2次+' : datum.label == 'c' ? '2019年12月前再加息3次+' : '10Y美债（右）'"}}}},
   {"transform":[{"filter":"datum.s == 'y'"}],"mark":{"type":"line","strokeWidth":2},
    "encoding":{"y":{"field":"v","type":"quantitative","scale":{"domain":[2.4,3.3],"nice":false,"zero":false},
      "axis":{"orient":"right","values":[2.4,2.5,2.6,2.7,2.8,2.9,3.0,3.1,3.2,3.3],"format":".1~f","title":"%","titleAngle":0,"titleX":-30,"titleY":-1,"titleAlign":"center","titleBaseline":"middle","titleFontSize":14,"titleFontWeight":"normal","titleColor":"#404040","titleFont":"Lato","labelPadding":4}},
     "color":{"field":"s","type":"nominal"},
     "strokeDash":{"field":"s","type":"nominal"}}}
  ],
  "resolve":{"scale":{"y":"independent"}}}
]},
{"width":511,"height":4,"data":{"values":[{}]},"mark":{"type":"point","opacity":0,"size":0},
 "encoding":{"x":{"datum":0,"type":"quantitative","scale":{"domain":[0,1]},"axis":{"orient":"bottom","domainColor":"#F0964A","domainWidth":2,"ticks":false,"labels":false,"title":null}}},
 "title":{"text":"资料来源：WIND，BLOOMBERG，天风证券研究所","orient":"bottom","anchor":"start","frame":"group","dx":3,"fontSize":15,"fontWeight":"normal","color":"#595959","font":"Noto Sans CJK SC","offset":13,"baseline":"top"}}
]},
{
"spacing":10,
"resolve":{"scale":{"color":"independent","strokeDash":"independent"},"legend":{"color":"independent","strokeDash":"independent"}},
"vconcat":[
{"width":527,"height":1,"data":{"values":[{}]},"mark":{"type":"point","opacity":0,"size":0},
 "encoding":{"x":{"datum":0,"type":"quantitative","scale":{"domain":[0,1]},"axis":{"orient":"bottom","domainColor":"#F0964A","domainWidth":2,"ticks":false,"labels":false,"title":null}}},
 "title":{"text":"图 3：term premium 与美债","anchor":"start","frame":"group","dx":13,"fontSize":16.5,"fontWeight":"bold","color":"#3F3F3F","font":"Noto Sans CJK SC","offset":-8,"baseline":"bottom"}},
{"spacing":0,
 "resolve":{"scale":{"color":"independent","strokeDash":"independent"},"legend":{"color":"independent","strokeDash":"independent"}},
 "hconcat":[
 {"width":1,"height":1,"data":{"values":[{}]},"mark":{"type":"point","opacity":0,"size":0},"encoding":{}},
 {"width":432,"height":316,"data":{"name":"R"},
  "encoding":{"x":{"field":"d","type":"temporal","scale":{"type":"utc","domain":[{"year":2018,"month":3,"date":1,"utc":true},{"year":2018,"month":10,"date":15,"utc":true}]},
   "axis":{"title":null,"format":"%Y-%m","labelAngle":0,"labelAlign":"center","labelBaseline":"top","labelPadding":2,"labelFontSize":11,"labelFlush":false,"labelOverlap":false,
    "values":[{"year":2018,"month":3,"date":1,"utc":true},{"year":2018,"month":4,"date":1,"utc":true},{"year":2018,"month":5,"date":1,"utc":true},{"year":2018,"month":6,"date":1,"utc":true},{"year":2018,"month":7,"date":1,"utc":true},{"year":2018,"month":8,"date":1,"utc":true},{"year":2018,"month":9,"date":1,"utc":true},{"year":2018,"month":10,"date":1,"utc":true}]}}},
  "layer":[
   {"transform":[{"filter":"datum.s != 't'"}],"mark":{"type":"line","strokeWidth":2},
    "encoding":{"y":{"field":"v","type":"quantitative","scale":{"domain":[-0.7,0],"nice":false,"zero":false},
      "axis":{"orient":"left","values":[-0.7,-0.6,-0.5,-0.4,-0.3,-0.2,-0.1,0],"labelExpr":"replace(format(datum.value, '.1~f'), '\u2212', '-')","title":"%","titleAngle":0,"titleX":21,"titleY":7,"titleAlign":"center","titleBaseline":"middle","titleFontSize":14,"titleFontWeight":"normal","titleColor":"#404040","titleFont":"Lato","minExtent":57,"labelPadding":4}},
     "color":{"field":"s","type":"nominal","scale":{"domain":["p","q","t"],"range":["#28A9E1","#FFA229","#C00000"]},
      "legend":{"orient":"none","legendX":118,"legendY":-9,"title":null,"symbolType":"stroke","symbolSize":784,"symbolStrokeWidth":2.5,"labelFontSize":13.5,"labelFontWeight":"bold","labelFont":"Noto Sans CJK SC","labelColor":"#000000","clipHeight":20,"rowPadding":0,"labelOffset":2,"padding":0,"labelLimit":300,
       "labelExpr":"datum.label == 'p' ? '2年期美债的term premium' : datum.label == 'q' ? '10年期美债的term premium' : '10Y美债（右）'"}}}},
   {"transform":[{"filter":"datum.s == 't'"}],"mark":{"type":"line","strokeWidth":2},
    "encoding":{"y":{"field":"v","type":"quantitative","scale":{"domain":[2.6,3.3],"nice":false,"zero":false},
      "axis":{"orient":"right","values":[2.6,2.7,2.8,2.9,3.0,3.1,3.2,3.3],"format":".1f","title":"%","titleAngle":0,"titleX":-18,"titleY":6,"titleAlign":"center","titleBaseline":"middle","titleFontSize":14,"titleFontWeight":"normal","titleColor":"#404040","titleFont":"Lato","labelPadding":4}},
     "color":{"field":"s","type":"nominal"}}}
  ],
  "resolve":{"scale":{"y":"independent"}}}
]},
{"width":527,"height":19,"data":{"values":[{}]},"mark":{"type":"point","opacity":0,"size":0},
 "encoding":{"x":{"datum":0,"type":"quantitative","scale":{"domain":[0,1]},"axis":{"orient":"bottom","domainColor":"#F0964A","domainWidth":2,"ticks":false,"labels":false,"title":null}}},
 "title":{"text":"资料来源：WIND，BLOOMBERG，天风证券研究所","orient":"bottom","anchor":"start","frame":"group","dx":13,"fontSize":15,"fontWeight":"normal","color":"#595959","font":"Noto Sans CJK SC","offset":12,"baseline":"top"}}
]}
]
}
